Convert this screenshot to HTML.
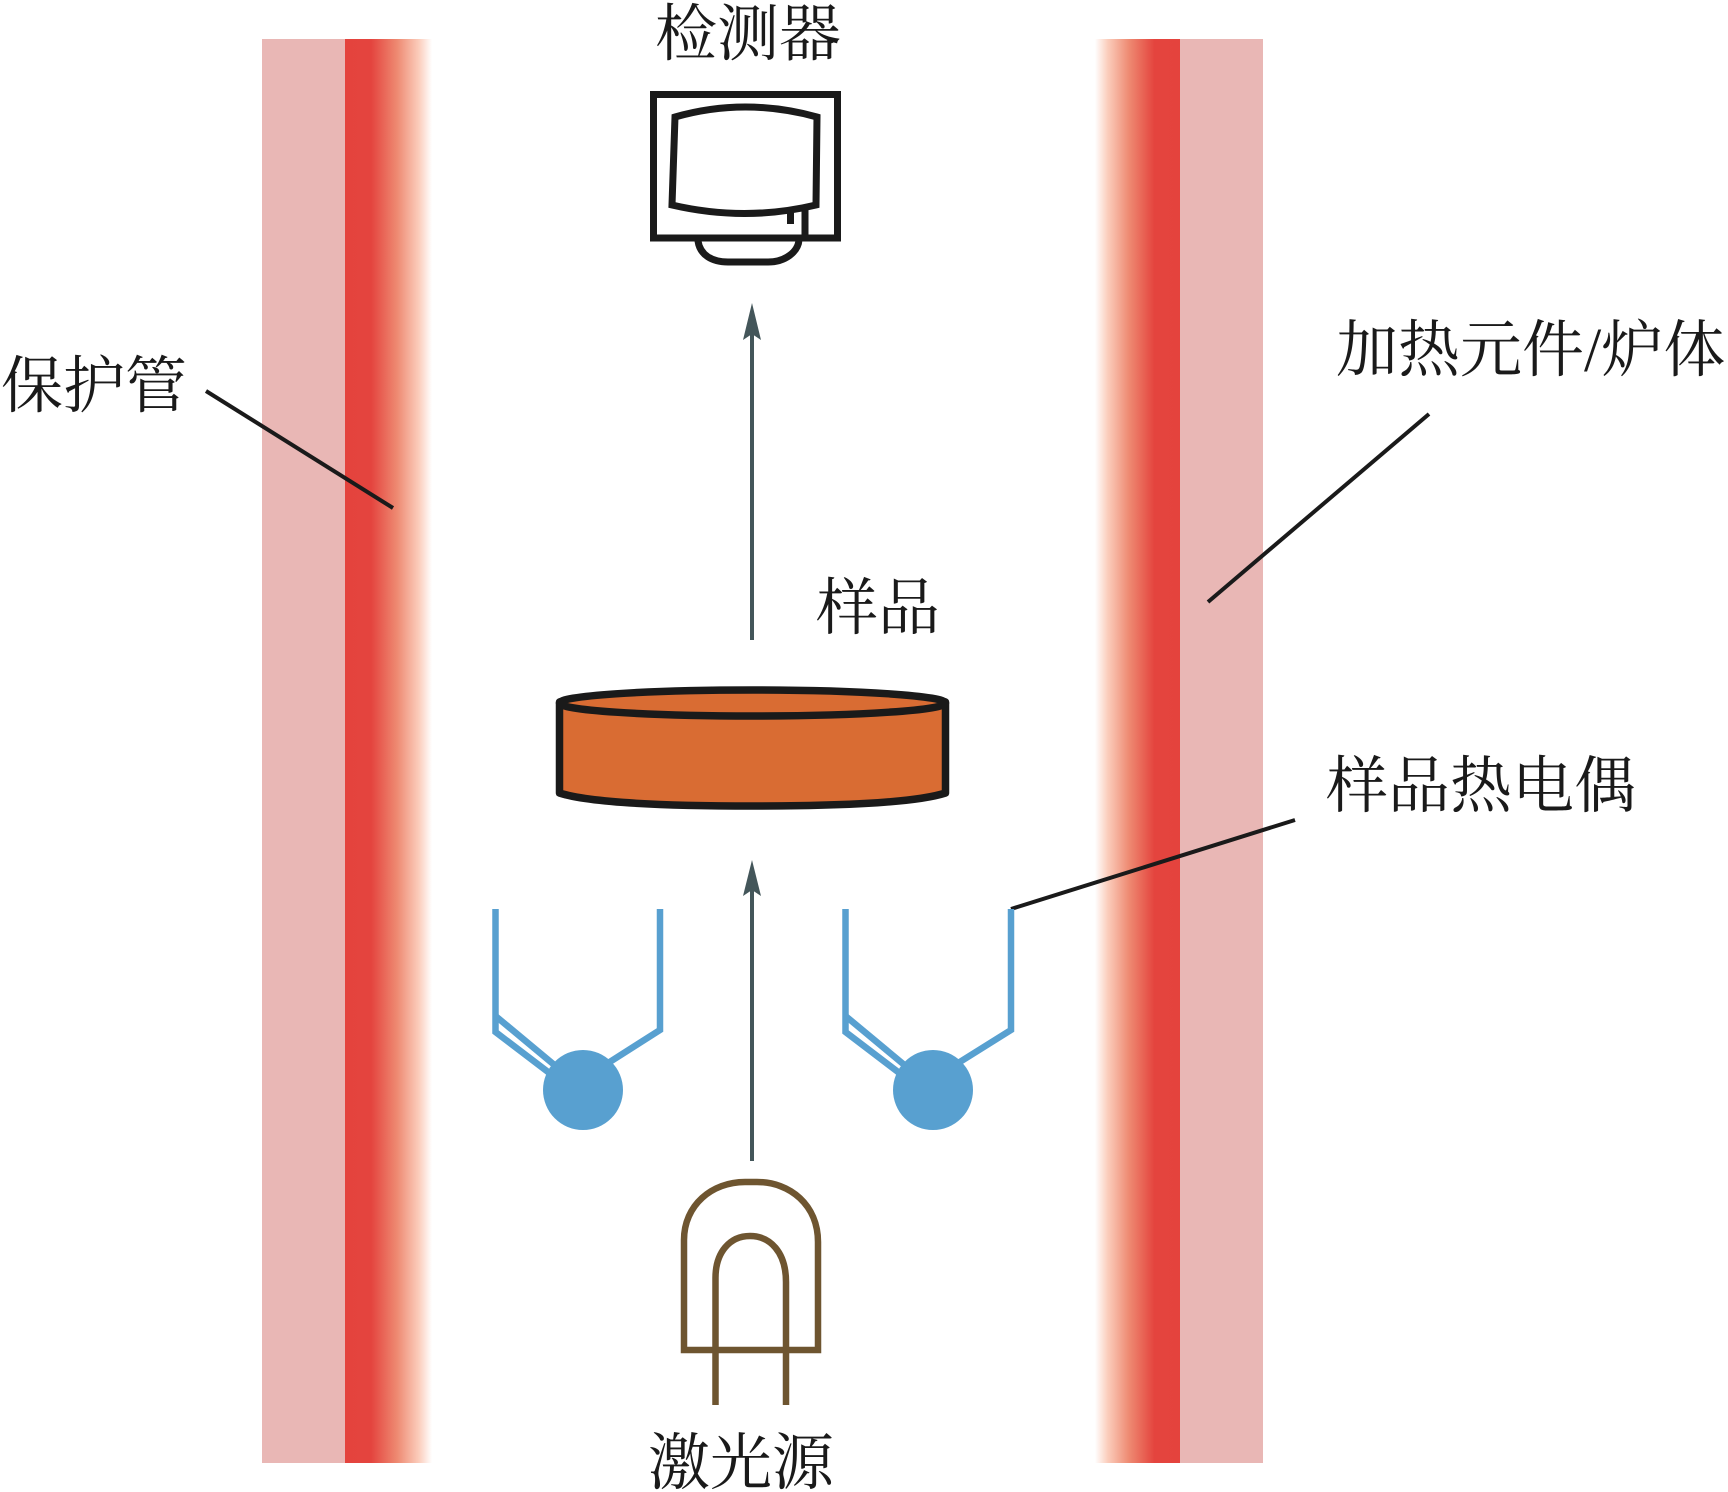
<!DOCTYPE html>
<html lang="zh">
<head>
<meta charset="utf-8">
<style>
html,body{margin:0;padding:0;background:#fff;width:1728px;height:1492px;overflow:hidden}
svg{display:block}
text{font-family:"Liberation Serif","Noto Serif CJK SC",serif;font-size:62px;fill:#1a1a1a}
</style>
</head>
<body>
<svg width="1728" height="1492" viewBox="0 0 1728 1492" xmlns="http://www.w3.org/2000/svg">
<defs>
<linearGradient id="gl" x1="0" x2="1" y1="0" y2="0">
<stop offset="0" stop-color="#e4433d"/>
<stop offset="0.3" stop-color="#e4443e"/>
<stop offset="0.6" stop-color="#ee8a72"/>
<stop offset="0.85" stop-color="#fbcdbc"/>
<stop offset="1" stop-color="#ffffff"/>
</linearGradient>
<linearGradient id="gr" x1="1" x2="0" y1="0" y2="0">
<stop offset="0" stop-color="#e4433d"/>
<stop offset="0.3" stop-color="#e4443e"/>
<stop offset="0.6" stop-color="#ee8a72"/>
<stop offset="0.85" stop-color="#fbcdbc"/>
<stop offset="1" stop-color="#ffffff"/>
</linearGradient>
</defs>

<rect x="262" y="39" width="83" height="1424" fill="#e9b7b5"/>
<rect x="345" y="39" width="87" height="1424" fill="url(#gl)"/>
<rect x="1095" y="39" width="85" height="1424" fill="url(#gr)"/>
<rect x="1180" y="39" width="83" height="1424" fill="#e9b7b5"/>

<g fill="none" stroke="#1a1a1a" stroke-width="4">
<line x1="206" y1="391" x2="393" y2="508"/>
<line x1="1429" y1="414" x2="1208" y2="602"/>
<line x1="1295" y1="820" x2="1011" y2="909"/>
</g>

<!-- detector -->
<g fill="none" stroke="#1a1a1a" stroke-width="7">
<rect x="653.500" y="94.500" width="184" height="143.500"/>
<path d="M675 117Q745 97 817 117L816 205Q745 222 672 205Z"/>
<path d="M805 208V238"/>
<path d="M698 241C700 255 712 262 728 262H768C785 262 798 252 799 240"/>
</g>
<rect x="787" y="210" width="7" height="14" fill="#1a1a1a"/>

<!-- arrows -->
<g fill="#44565a">
<rect x="750" y="325" width="4" height="315"/>
<polygon points="752,303 761,340 752,334 743,340"/>
<rect x="750" y="885" width="4" height="276"/>
<polygon points="752,860 761,896 752,890 743,896"/>
</g>

<!-- sample -->
<path d="M559.500 702V793Q600 806 752.500 806Q905 806 945.500 793V702Z" fill="#d96c33" stroke="#1a1a1a" stroke-width="7.500" stroke-linejoin="round"/>
<ellipse cx="752.500" cy="703" rx="193" ry="13" fill="#d96c33" stroke="#1a1a1a" stroke-width="7.500"/>

<!-- thermocouples -->
<g fill="none" stroke="#58a0d0" stroke-width="6.500">
<path d="M495.500 909V1032L552 1075"/>
<path d="M495.500 1016L558 1068"/>
<path d="M660 909V1030L605 1065"/>
<circle cx="583" cy="1090" r="40" fill="#58a0d0" stroke="none"/>
</g>
<g fill="none" stroke="#58a0d0" stroke-width="6.500">
<path d="M845.500 909V1032L902 1075"/>
<path d="M845.500 1016L908 1068"/>
<path d="M1011 909V1030L955 1065"/>
<circle cx="933" cy="1090" r="40" fill="#58a0d0" stroke="none"/>
</g>

<!-- laser -->
<g fill="none" stroke="#6e5530" stroke-width="6.500">
<path d="M684 1350V1240C684 1205 712 1182 745 1182H757C790 1182 818 1205 818 1242V1350Z"/>
<path d="M715.500 1405V1278C715.500 1252 730 1236 750 1236C770 1236 786 1252 786 1282V1405"/>
</g>

<!-- labels -->
<text x="655" y="55">检测器</text>
<text x="1" y="407">保护管</text>
<text x="1336" y="371">加热元件/炉体</text>
<text x="816" y="629">样品</text>
<text x="1326" y="807">样品热电偶</text>
<text x="648" y="1484">激光源</text>
</svg>
</body>
</html>
